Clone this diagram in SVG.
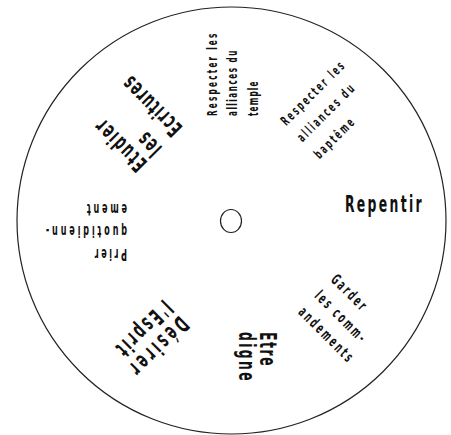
<svg xmlns="http://www.w3.org/2000/svg" width="451" height="435" viewBox="0 0 451 435">
<style>
.t{font-family:"DejaVu Sans Condensed","DejaVu Sans",sans-serif;fill:#111;font-stretch:condensed;font-weight:bold;letter-spacing:0.2em}
.s{font-size:13.5px}
.m{font-size:15px}
.b{font-size:23px;letter-spacing:0.17em}
.ring{fill:none;stroke:#222;stroke-width:1.2}
</style>
<rect width="451" height="435" fill="#fff"/>
<g id="wheel"><ellipse class="ring" cx="231.5" cy="220.5" rx="214.5" ry="213.5"/></g>
<g id="hub"><ellipse class="ring" cx="231" cy="221" rx="10.5" ry="11.5" stroke-width="1.6"/></g>
<g id="repentir" transform="translate(231 221) rotate(0) scale(0.6 1)">
<text class="t b" x="190" y="-9" textLength="131.7" lengthAdjust="spacing">Repentir</text>
</g>
<g id="garder" transform="translate(231 221) rotate(45) scale(0.6 1)">
<text class="t m" x="186.7" y="-28" textLength="75" lengthAdjust="spacing">Garder</text>
<text class="t m" x="186.7" y="-5" textLength="111.7" lengthAdjust="spacing">les comm-</text>
<text class="t m" x="186.7" y="18" textLength="120" lengthAdjust="spacing">andements</text>
</g>
<g id="etre-digne" transform="translate(231 221) rotate(90) scale(0.6 1)">
<text class="t b" x="185" y="-29" textLength="60" lengthAdjust="spacing">Etre</text>
<text class="t b" x="185" y="-8" textLength="85" lengthAdjust="spacing">digne</text>
</g>
<g id="desirer" transform="translate(231 221) rotate(135) scale(0.6 1)">
<text class="t b" x="171.7" y="-30" textLength="125" lengthAdjust="spacing">Désirer</text>
<text class="t b" x="171.7" y="-7" textLength="118.3" lengthAdjust="spacing">l'Esprit</text>
</g>
<g id="prier" transform="translate(231 221) rotate(180) scale(0.6 1)">
<text class="t m" x="173.3" y="-28" textLength="56.7" lengthAdjust="spacing">Prier</text>
<text class="t m" x="173.3" y="-5.5" textLength="138.3" lengthAdjust="spacing">quotidienn-</text>
<text class="t m" x="173.3" y="17.5" textLength="70" lengthAdjust="spacing">ement</text>
</g>
<g id="etudier" transform="translate(231 221) rotate(225) scale(0.6 1)">
<text class="t b" x="166.7" y="-17" textLength="108.3" lengthAdjust="spacing">Etudier</text>
<text class="t b" x="166.7" y="4" textLength="43.3" lengthAdjust="spacing">les</text>
<text class="t b" x="166.7" y="33" textLength="126.7" lengthAdjust="spacing">Ecritures</text>
</g>
<g id="temple" transform="translate(231 221) rotate(270) scale(0.6 1)">
<text class="t s" x="175" y="-14.5" textLength="140" lengthAdjust="spacing">Respecter les</text>
<text class="t s" x="175" y="5.5" textLength="111.7" lengthAdjust="spacing">alliances du</text>
<text class="t s" x="175" y="27" textLength="60" lengthAdjust="spacing">temple</text>
</g>
<g id="bapteme" transform="translate(231 221) rotate(315) scale(0.6 1)">
<text class="t s" x="176.7" y="-28" textLength="141.7" lengthAdjust="spacing">Respecter les</text>
<text class="t s" x="176.7" y="-5" textLength="126.7" lengthAdjust="spacing">alliances du</text>
<text class="t s" x="176.7" y="19" textLength="86.7" lengthAdjust="spacing">baptême</text>
</g>
<g id="connectors"/>
</svg>
